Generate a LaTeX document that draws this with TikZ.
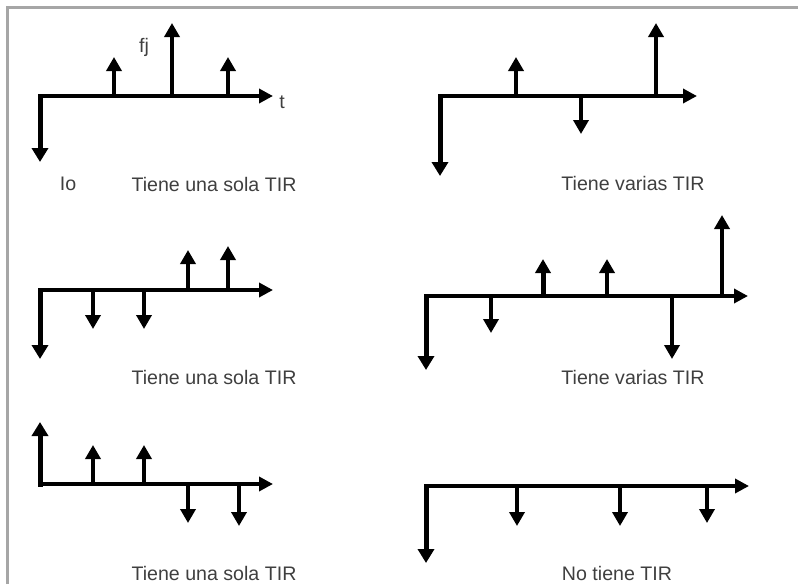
\documentclass[tikz,border=0pt]{standalone}
\usepackage{fontspec}
\setmainfont{Liberation Sans}
\usetikzlibrary{arrows.meta}
\definecolor{framegray}{HTML}{A6A6A6}
\definecolor{textgray}{HTML}{3F3F3F}
\tikzstyle{axis} = [line width=4pt, line cap=rect,
                    -{Triangle[length=14pt,width=14pt]}]
\tikzstyle{flow} = [line width=3.5pt, -{Triangle[length=14pt,width=15pt]}]
\tikzstyle{invest} = [flow, line width=5pt, line cap=rect,
                      -{Triangle[length=14pt,width=16pt]}]
\tikzstyle{caption} = [text=textgray, inner sep=0pt,
                       font=\fontsize{19.6}{23}\selectfont]
\begin{document}
\begin{tikzpicture}[x=1pt,y=-1pt]
  \useasboundingbox (0,0) rectangle (798,584);
  \draw[framegray, line width=3pt] (7,584) -- (7,7) -- (798,7);

  % una sola TIR (arriba)
  \coordinate (o1) at (40,96);
  \coordinate (t1) at (273,96);
  \coordinate (i1) at (40,162);
  \draw[invest] (o1) -- (i1);
  \draw[axis] (o1) -- (t1);
  \foreach \x/\y [count=\k] in {114/57,172/23,228/57}{
    \coordinate (b1\k) at (\x,96);
    \coordinate (f1\k) at (\x,\y);
    \draw[flow] (b1\k) -- (f1\k);
  }
  \node[caption] (fj) at (144,47) {fj};
  \node[caption] (tt) at (282,102) {t};
  \node[caption] (io) at (68,184) {Io};
  \node[caption] (c1) at (214,184) {Tiene una sola TIR};

  % varias TIR (arriba)
  \coordinate (o2) at (440,96);
  \coordinate (t2) at (697,96);
  \coordinate (i2) at (440,176);
  \draw[invest] (o2) -- (i2);
  \draw[axis] (o2) -- (t2);
  \foreach \x/\y [count=\k] in {516/57,581/134,656/23}{
    \coordinate (b2\k) at (\x,96);
    \coordinate (f2\k) at (\x,\y);
    \draw[flow] (b2\k) -- (f2\k);
  }
  \node[caption] (c2) at (633,183) {Tiene varias TIR};

  % una sola TIR (medio)
  \coordinate (o3) at (40,290);
  \coordinate (t3) at (273,290);
  \coordinate (i3) at (40,359);
  \draw[invest] (o3) -- (i3);
  \draw[axis] (o3) -- (t3);
  \foreach \x/\y [count=\k] in {93/329,144/329,188/250,228/246}{
    \coordinate (b3\k) at (\x,290);
    \coordinate (f3\k) at (\x,\y);
    \draw[flow] (b3\k) -- (f3\k);
  }
  \node[caption] (c3) at (214,377) {Tiene una sola TIR};

  % varias TIR (medio)
  \coordinate (o4) at (426,296);
  \coordinate (t4) at (748,296);
  \coordinate (i4) at (426,370);
  \draw[invest] (o4) -- (i4);
  \draw[axis] (o4) -- (t4);
  \foreach \x/\y [count=\k] in {491/333,607/259,672/359,722/215}{
    \coordinate (b4\k) at (\x,296);
    \coordinate (f4\k) at (\x,\y);
    \draw[flow] (b4\k) -- (f4\k);
  }
  \coordinate (b45) at (543,298);
  \coordinate (f45) at (543,259);
  \draw[flow, line width=5pt] (b45) -- (f45);
  \node[caption] (c4) at (633,377) {Tiene varias TIR};

  % una sola TIR (abajo)
  \coordinate (o5) at (40,484);
  \coordinate (t5) at (273,484);
  \coordinate (i5) at (40,422);
  \draw[invest] (o5) -- (i5);
  \draw[axis] (o5) -- (t5);
  \foreach \x/\y [count=\k] in {93/445,144/445,188/523,239/526}{
    \coordinate (b5\k) at (\x,484);
    \coordinate (f5\k) at (\x,\y);
    \draw[flow] (b5\k) -- (f5\k);
  }
  \node[caption] (c5) at (214,573) {Tiene una sola TIR};

  % sin TIR
  \coordinate (o6) at (426,486);
  \coordinate (t6) at (749,486);
  \coordinate (i6) at (426,563);
  \draw[invest] (o6) -- (i6);
  \draw[axis] (o6) -- (t6);
  \foreach \x/\y [count=\k] in {517/526,620/526,707/523}{
    \coordinate (b6\k) at (\x,486);
    \coordinate (f6\k) at (\x,\y);
    \draw[flow] (b6\k) -- (f6\k);
  }
  \node[caption] (c6) at (617,573) {No tiene TIR};
\end{tikzpicture}
\end{document}
